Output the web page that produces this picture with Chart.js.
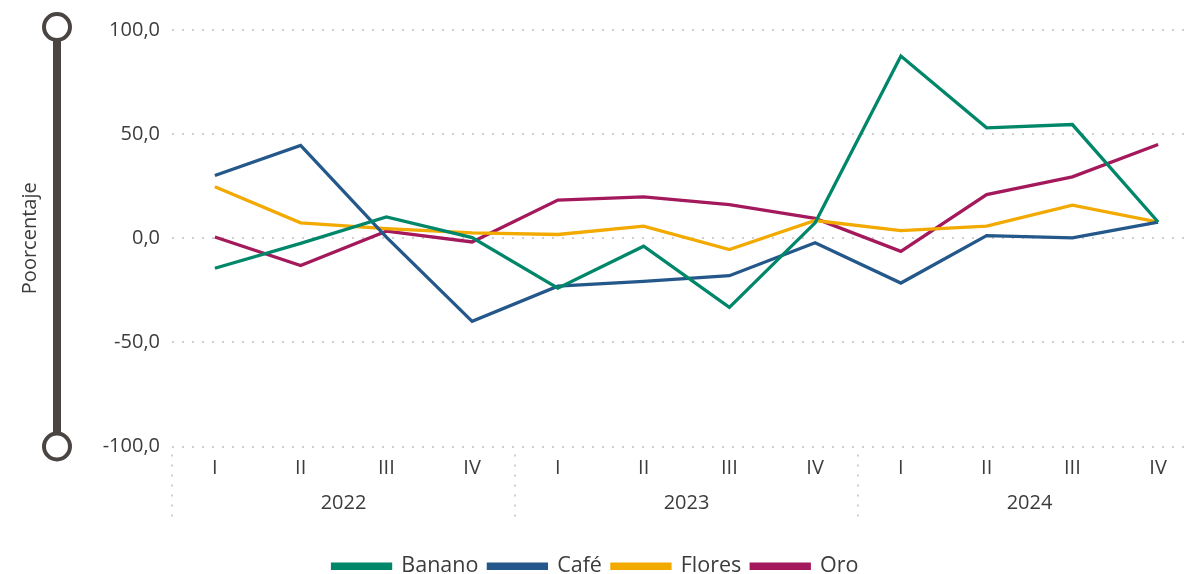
<!DOCTYPE html>
<html>
<head>
<meta charset="utf-8">
<script src="https://cdn.jsdelivr.net/npm/chart.js@4"></script>
<style>
  body { margin: 0; overflow: hidden; background: #fff; }
  #wrap { width: 1211px; height: 587px; position: relative; }
</style>
</head>
<body>
<div id="wrap"><canvas id="chart1"></canvas></div>
<script>
const years = ['2022', '2023', '2024'];
const quarters = ['I', 'II', 'III', 'IV'];
const yTicks = [-100, -50, 0, 50, 100];

const banano = [-14.4, -2.5, 10.2, 0.3, -24, -3.8, -33.2, 7.4, 87.5, 53, 54.6, 7.8];
const cafe   = [30.1, 44.6, 0.5, -39.9, -23, -20.7, -18, -2.2, -21.5, 1.3, 0.2, 7.8];
const flores = [24.7, 7.4, 4.6, 2.6, 1.8, 5.8, -5.4, 8.5, 3.7, 5.8, 15.9, 7.8];
const oro    = [0.6, -13.1, 3.4, -1.8, 18.3, 19.9, 16.2, 9.5, -6.3, 21, 29.5, 45];

const textColor = '#3c3c3c';
const gridColor = '#cfcfcf';
const font = { family: "'Open Sans', 'Noto Sans', sans-serif", size: 20 };

function serie(label, data, color) {
  return {
    label: label,
    data: data,
    borderColor: color,
    backgroundColor: color,
    borderWidth: 3.3,
    pointRadius: 0,
    tension: 0,
    xAxisID: 'x'
  };
}

// barra decorativa del eje y + separadores de años
const decor = {
  id: 'decor',
  afterDraw(chart) {
    const ctx = chart.ctx;
    const { x, y } = chart.scales;

    ctx.save();
    ctx.strokeStyle = gridColor;
    ctx.lineWidth = 2;
    ctx.setLineDash([2, 8]);
    const w = x.width / years.length;
    for (let i = 0; i <= years.length; i++) {
      const px = Math.round(x.left + i * w);
      ctx.beginPath();
      ctx.moveTo(px, y.bottom + 8);
      ctx.lineTo(px, y.bottom + 78);
      ctx.stroke();
    }
    ctx.restore();

    const cx = 57;
    const top = y.getPixelForValue(yTicks[yTicks.length - 1]) - 3;
    const bot = y.getPixelForValue(yTicks[0]);
    ctx.save();
    ctx.strokeStyle = '#4a4542';
    ctx.lineWidth = 8;
    ctx.beginPath();
    ctx.moveTo(cx, top + 13);
    ctx.lineTo(cx, bot - 13);
    ctx.stroke();
    ctx.lineWidth = 4;
    ctx.fillStyle = '#fff';
    [top, bot].forEach(cy => {
      ctx.beginPath();
      ctx.arc(cx, cy, 13, 0, Math.PI * 2);
      ctx.fill();
      ctx.stroke();
    });
    ctx.restore();
  }
};

const config = {
  type: 'line',
  data: {
    labels: years.flatMap(() => quarters),
    datasets: [
      serie('Banano', banano, '#00876a'),
      serie('Café', cafe, '#24578a'),
      serie('Flores', flores, '#f2a900'),
      serie('Oro', oro, '#a3195b')
    ]
  },
  options: {
    responsive: true,
    maintainAspectRatio: false,
    animation: false,
    // el margen negativo centra la leyenda como en el original
    layout: { padding: { top: 30, left: -10, right: 10, bottom: 0 } },
    plugins: {
      tooltip: { enabled: false },
      legend: {
        position: 'bottom',
        labels: {
          color: textColor,
          font: { family: font.family, size: 21.5 },
          boxWidth: 58,
          boxHeight: 4,
          padding: 10
        }
      }
    },
    scales: {
      y: {
        min: -100,
        max: 100,
        afterBuildTicks: s => { s.ticks = yTicks.map(v => ({ value: v })); },
        afterFit: s => { s.width = 182; },
        ticks: {
          color: textColor,
          font: font,
          padding: 12,
          callback: v => v.toFixed(1).replace('.', ',')
        },
        grid: { color: gridColor, lineWidth: 2, drawTicks: false },
        border: { display: false, dash: [2, 8] },
        title: {
          display: true,
          text: 'Poorcentaje',
          color: textColor,
          font: font,
          padding: { top: 28, bottom: 0 }
        }
      },
      x: {
        type: 'category',
        offset: true,
        afterFit: s => { s.height = 32; },
        grid: { display: false },
        border: { display: false },
        ticks: { color: textColor, font: font, padding: 2, maxRotation: 0, autoSkip: false }
      },
      x2: {
        type: 'category',
        labels: years,
        offset: true,
        position: 'bottom',
        afterFit: s => { s.height = 67; },
        grid: { display: false },
        border: { display: false },
        ticks: { color: textColor, font: font, padding: 5, maxRotation: 0 }
      }
    }
  },
  plugins: [decor]
};

const myChart = new Chart(document.getElementById('chart1'), config);
</script>
</body>
</html>
